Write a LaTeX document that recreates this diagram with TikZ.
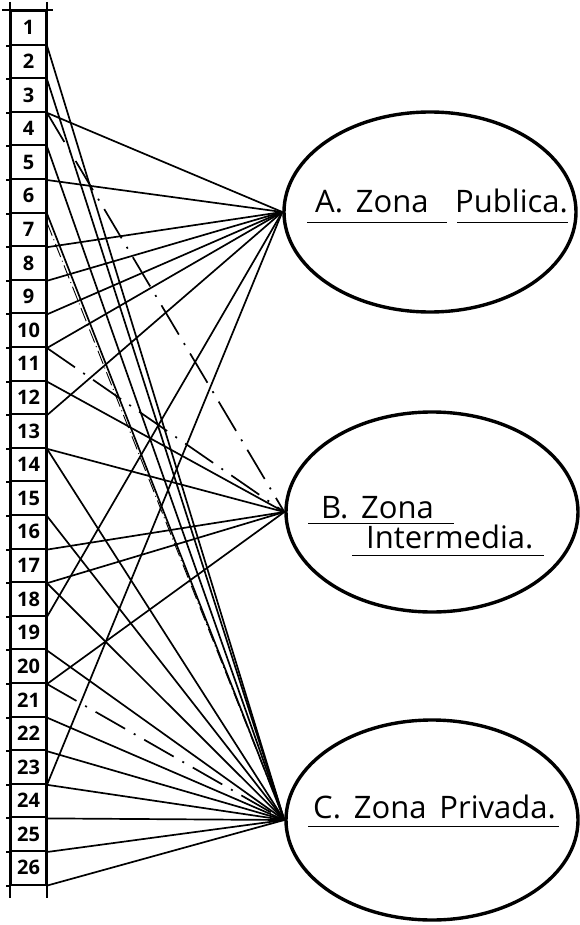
\documentclass[tikz,border=0pt]{standalone}
\usepackage{fontspec}
\setmainfont{Open Sans}
\newfontfamily\zonefont{Open Sans}[WordSpace=1.6]
\usetikzlibrary{shapes.geometric}

\begin{document}
\begin{tikzpicture}[x=1pt, y=-1pt,
    cell/.style={draw, line width=2pt, minimum width=35pt, minimum height=33.6pt, inner sep=0pt, font=\bfseries\fontsize{20}{20}\selectfont},
    zone/.style={draw, ellipse, line width=3.4pt, minimum width=292pt, minimum height=200pt, inner sep=0pt},
    zonetext/.style={anchor=base west, inner sep=0pt, font=\zonefont\fontsize{31}{31}\selectfont},
    uline/.style={line width=1.5pt},
    link/.style={line width=1.7pt},
    dotlink/.style={line width=1.7pt, dash pattern=on 34pt off 10pt on 2pt off 10pt},
    thinlink/.style={line width=0.9pt, dash pattern=on 14pt off 4pt on 1pt off 4pt}]

    \fill[white] (0,0) rectangle (580,925);
    \useasboundingbox (0,0) rectangle (580,925);

    % numbered column
    \foreach \i in {1,...,26}
        \node[cell] (r\i) at (28.5, {11+33.6*(\i-0.5)}) {\i};
    \draw[line width=2pt] ([yshift=8pt]r1.north west) -- ([yshift=-12pt]r26.south west);
    \draw[line width=2pt] ([yshift=8pt]r1.north east) -- ([yshift=-12pt]r26.south east);
    \draw[line width=2pt] ([xshift=-8pt]r1.north west) -- ([xshift=6pt]r1.north east);
    \foreach \i in {1,...,26}
        \draw[line width=2pt] ([xshift=-4pt]r\i.south west) -- (r\i.south west);

    % zones
    \node[zone] (zA) at (430,212) {};
    \node[zone] (zB) at (432,512) {};
    \node[zone] (zC) at (432,820) {};

    \node[zonetext] (tA1) at (315,213) {A. Zona};
    \node[zonetext] (tA2) at (455,213) {Publica.};
    \node[zonetext] (tB1) at (321,518) {B. Zona};
    \node[zonetext] (tB2) at (366,548) {Intermedia.};
    \node[zonetext] (tC) at (313,818) {C. Zona Privada.};
    % underlines: node / left / right / drop
    \foreach \t/\l/\r/\d in {tA1/8/18/9, tA2/-2/0/9, tB1/13/20/5, tB2/14/10/7, tC/5/3/8}
        \draw[uline] ([xshift=-\l pt, yshift=-\d pt]\t.south west) -- ([xshift=\r pt, yshift=-\d pt]\t.south east);

    % links
    \foreach \r in {3,5,7,8,9,10,12,18,23}
        \draw[link] (r\r.south east) -- (zA.west);
    \foreach \r in {11,13,16,17,20}
        \draw[link] (r\r.south east) -- (zB.west);
    \foreach \r in {1,2,4,6,13,15,17,19,21,22,23,24,25,26}
        \draw[link] (r\r.south east) -- (zC.west);
    \foreach \r in {3,10}
        \draw[dotlink] (r\r.south east) -- (zB.west);
    \draw[dotlink] (r20.south east) -- (zC.west);
    \draw[thinlink] ([yshift=-9pt]r6.south east) -- (zC.west);
\end{tikzpicture}
\end{document}
